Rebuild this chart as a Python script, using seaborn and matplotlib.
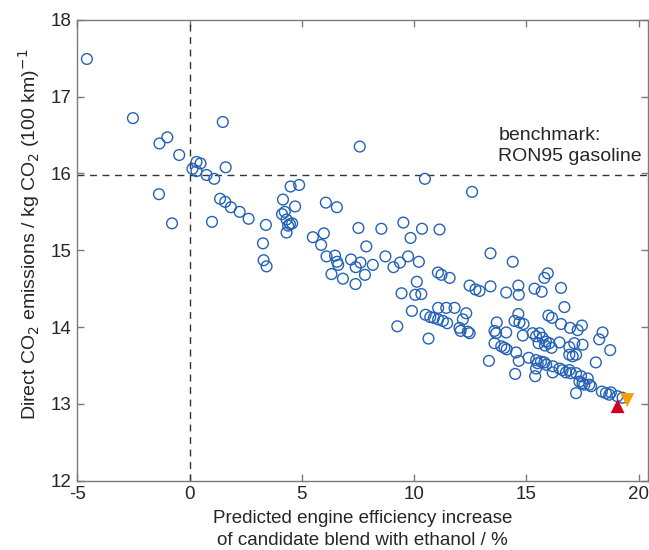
import numpy as np
import pandas as pd
import seaborn as sns
import matplotlib
matplotlib.use("Agg")
import matplotlib.pyplot as plt

# Data
eff_increase = [
    -4.57, -2.52, -0.99, -1.34, -0.46, 1.48, 0.13, 0.31, 0.49, 0.31, 0.76, 1.10, 1.61,
    -1.36, -0.78, 1.00, 1.36, 1.59, 1.84, 2.23, 2.63, 3.40, 3.27, 3.30, 3.43,
    4.50, 4.88, 4.16, 4.70, 6.07, 6.56, 4.12, 4.24, 4.32, 4.47, 4.39, 4.57, 4.32,
    5.49, 5.98, 5.86, 6.10, 6.48, 6.57, 6.62, 6.32, 6.83, 7.58,
    7.52, 7.87, 8.54, 9.52, 9.84, 7.19, 7.61, 7.40, 7.81, 7.39, 8.16, 8.72, 9.08,
    9.37, 9.73, 9.44, 9.90, 9.25,
    10.48, 12.58, 10.35, 11.13, 10.21, 13.40, 14.39, 11.06, 11.22, 11.58, 10.12,
    10.05, 10.32, 12.47, 12.73, 12.91, 13.40, 14.10, 14.64, 14.66, 15.36, 15.68,
    15.80, 15.95, 16.54, 16.69, 10.51, 10.72, 10.88, 11.07, 11.07, 11.43, 11.80,
    11.28, 11.47, 12.32, 12.17, 12.02, 12.07, 12.47, 12.39, 10.64, 13.68, 13.58,
    13.65, 14.10, 14.64, 14.47, 14.69, 14.87, 15.98, 16.14, 16.54, 15.28, 15.43,
    15.58, 15.72, 15.87, 16.02, 14.84, 13.58, 13.88, 14.02, 14.12, 13.33, 14.54,
    14.66, 15.10, 15.43, 15.50, 15.65, 15.80, 15.88, 14.50, 15.39, 15.43, 16.17,
    16.17, 16.94, 17.28, 17.47, 18.39, 18.24, 18.73, 16.47, 16.91, 17.13, 17.50,
    16.91, 17.06, 17.21, 18.09, 16.47, 16.61, 16.76, 16.98, 16.91, 17.21, 17.43,
    17.36, 17.50, 17.73, 17.58, 17.80, 17.88, 17.21, 18.36, 18.54, 18.69, 18.76,
    19.05, 19.28, 15.54, 15.83, 16.12,
]
co2_emissions = [
    17.49, 16.72, 16.47, 16.39, 16.24, 16.67, 16.06, 16.15, 16.13, 16.03, 15.98, 15.93, 16.08,
    15.73, 15.35, 15.37, 15.67, 15.63, 15.56, 15.50, 15.41, 15.33, 15.09, 14.87, 14.79,
    15.83, 15.85, 15.66, 15.57, 15.62, 15.56, 15.47, 15.50, 15.40, 15.34, 15.32, 15.35, 15.23,
    15.17, 15.22, 15.07, 14.92, 14.93, 14.85, 14.81, 14.69, 14.63, 16.35,
    15.29, 15.05, 15.28, 15.36, 15.16, 14.88, 14.84, 14.78, 14.68, 14.56, 14.81, 14.92, 14.78,
    14.84, 14.92, 14.44, 14.21, 14.01,
    15.93, 15.76, 15.28, 15.27, 14.85, 14.96, 14.85, 14.71, 14.68, 14.64, 14.59,
    14.42, 14.43, 14.54, 14.49, 14.47, 14.53, 14.45, 14.54, 14.42, 14.50, 14.46,
    14.64, 14.70, 14.51, 14.26, 14.16, 14.13, 14.12, 14.10, 14.25, 14.25, 14.25,
    14.08, 14.05, 14.18, 14.10, 13.99, 13.95, 13.92, 13.94, 13.85, 14.06, 13.95,
    13.92, 13.93, 14.17, 14.08, 14.06, 14.04, 14.15, 14.12, 14.04, 13.92, 13.88,
    13.92, 13.86, 13.81, 13.79, 13.89, 13.79, 13.75, 13.73, 13.71, 13.56, 13.67,
    13.56, 13.60, 13.57, 13.53, 13.55, 13.54, 13.51, 13.39, 13.36, 13.46, 13.49,
    13.41, 13.99, 13.96, 14.02, 13.93, 13.84, 13.70, 13.80, 13.74, 13.79, 13.77,
    13.64, 13.62, 13.64, 13.54, 13.46, 13.44, 13.41, 13.40, 13.44, 13.40, 13.36,
    13.29, 13.27, 13.33, 13.25, 13.25, 13.23, 13.14, 13.16, 13.14, 13.12, 13.15,
    13.10, 13.08, 13.79, 13.76, 13.73,
]

# special blends (triangles)
red_x, red_y = [19.06], [12.97]
orange_x, orange_y = [19.49], [13.05]

benchmark_y = 15.98

# Style
sns.set_style("ticks")
plt.rcParams['font.family'] = ['Liberation Sans', 'DejaVu Sans']
plt.rcParams['axes.unicode_minus'] = False

df = pd.DataFrame({'eff': eff_increase, 'co2': co2_emissions})

fig = plt.figure(figsize=(6.49, 5.50), dpi=100)
ax = fig.add_axes([0.119, 0.126, 0.879, 0.838])

# Benchmark lines
ax.axvline(0, color='#333333', ls=(0, (5, 4)), lw=1.0, zorder=1)
ax.axhline(benchmark_y, color='#333333', ls=(0, (5, 4)), lw=1.0, zorder=1)

# Candidate blends
sns.scatterplot(data=df, x='eff', y='co2', ax=ax, marker='o', s=60,
                facecolor='none', edgecolor='#2462b4', linewidth=1.0, zorder=3)

# Special blends
sns.scatterplot(x=red_x, y=red_y, marker='^', color='#d0021b', s=100,
                edgecolor='none', ax=ax, zorder=4)
sns.scatterplot(x=orange_x, y=orange_y, marker='v', color='#f5a000', s=100,
                edgecolor='none', ax=ax, zorder=4)

ax.text(13.75, 16.6, 'benchmark:\nRON95 gasoline', fontsize=14, va='top',
        ha='left', color='#262626', linespacing=1.3)

ax.set_xlim(-5, 20.4)
ax.set_ylim(12, 18)
ax.set_xticks([-5, 0, 5, 10, 15, 20])
ax.set_yticks([12, 13, 14, 15, 16, 17, 18])

for sp in ax.spines.values():
    sp.set_visible(True)
    sp.set_color('#7a7a7a')
    sp.set_linewidth(1.0)
ax.tick_params(direction='in', length=5, width=1, color='#7a7a7a',
               labelsize=13.5, labelcolor='#262626', top=True, right=True, pad=4)

ax.set_xlabel('Predicted engine efficiency increase\nof candidate blend with ethanol / %',
              fontsize=13.5, color='#262626', labelpad=5, linespacing=1.35)
ax.set_ylabel(r'Direct CO$_2$ emissions / kg CO$_2$ (100 km)$^{-1}$',
              fontsize=14, color='#262626')
ax.yaxis.set_label_coords(-0.062, 0.535)

fig.savefig('out.png', dpi=100)
